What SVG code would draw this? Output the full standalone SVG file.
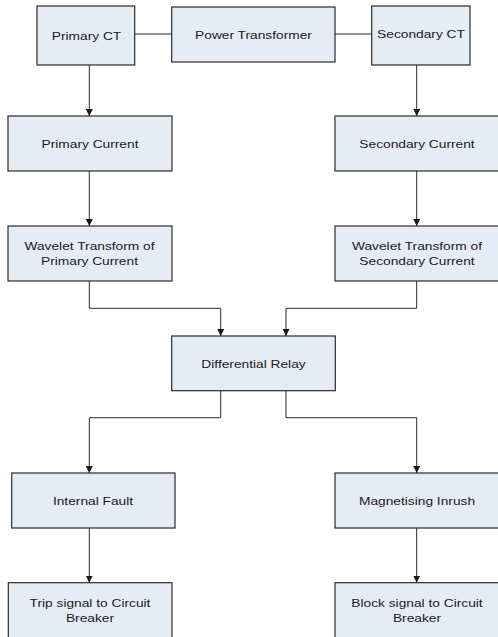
<svg xmlns="http://www.w3.org/2000/svg" width="498" height="637" viewBox="0 0 498 637">
<style>
.box{fill:#e6ecf6;stroke:#2b2b2b;stroke-width:1.2}
.lbl{font-family:"Liberation Sans",Arial,sans-serif;font-size:11px;fill:#1a1a1a;text-anchor:middle}
.con{fill:none;stroke:#2b2b2b;stroke-width:1}
</style>
<defs>
<marker id="arr" viewBox="0 0 10 10" refX="10" refY="5" markerWidth="7" markerHeight="7" markerUnits="userSpaceOnUse" orient="auto">
<path d="M0,0 L10,5 L0,10 z" fill="#1a1a1a"/>
</marker>
</defs>
<rect width="498" height="637" fill="#ffffff"/>
<g id="connectors">
<path class="con" d="M134.7,34 H171.7"/>
<path class="con" d="M335,34 H371.7"/>
<path class="con" marker-end="url(#arr)" d="M89.3,65 V116"/>
<path class="con" marker-end="url(#arr)" d="M416.7,65 V116"/>
<path class="con" marker-end="url(#arr)" d="M89.3,171 V226"/>
<path class="con" marker-end="url(#arr)" d="M416.7,171 V226"/>
<path class="con" marker-end="url(#arr)" d="M89.3,281 V308.3 H220.7 V336"/>
<path class="con" marker-end="url(#arr)" d="M416.7,281 V308.3 H286 V336"/>
<path class="con" marker-end="url(#arr)" d="M220.7,390.7 V417.7 H89.3 V473"/>
<path class="con" marker-end="url(#arr)" d="M286,390.7 V417.7 H416.7 V473"/>
<path class="con" marker-end="url(#arr)" d="M89.3,528 V582.7"/>
<path class="con" marker-end="url(#arr)" d="M416.7,528 V582.7"/>
</g>
<g id="primary-ct">
<rect class="box" x="37" y="6" width="97.7" height="59"/>
<text class="lbl" transform="translate(86.5,39.5) scale(1.25,1)">Primary CT</text>
</g>
<g id="power-transformer">
<rect class="box" x="171.7" y="7" width="163.3" height="55"/>
<text class="lbl" transform="translate(253.5,38.5) scale(1.25,1)">Power Transformer</text>
</g>
<g id="secondary-ct">
<rect class="box" x="371.7" y="6" width="98.3" height="59"/>
<text class="lbl" transform="translate(421,38) scale(1.25,1)">Secondary CT</text>
</g>
<g id="primary-current">
<rect class="box" x="8" y="116" width="164" height="55"/>
<text class="lbl" transform="translate(90,147.5) scale(1.25,1)">Primary Current</text>
</g>
<g id="secondary-current">
<rect class="box" x="335" y="116" width="166" height="55"/>
<text class="lbl" transform="translate(417,147.5) scale(1.25,1)">Secondary Current</text>
</g>
<g id="wavelet-primary">
<rect class="box" x="8" y="226" width="164" height="55"/>
<text class="lbl" transform="translate(89.5,250) scale(1.25,1)">Wavelet Transform of</text>
<text class="lbl" transform="translate(89.5,265) scale(1.25,1)">Primary Current</text>
</g>
<g id="wavelet-secondary">
<rect class="box" x="335" y="226" width="166" height="55"/>
<text class="lbl" transform="translate(417,250) scale(1.25,1)">Wavelet Transform of</text>
<text class="lbl" transform="translate(417,265) scale(1.25,1)">Secondary Current</text>
</g>
<g id="differential-relay">
<rect class="box" x="171.7" y="336" width="163.6" height="54.7"/>
<text class="lbl" transform="translate(253.5,367.5) scale(1.25,1)">Differential Relay</text>
</g>
<g id="internal-fault">
<rect class="box" x="11.7" y="473" width="163.3" height="55"/>
<text class="lbl" transform="translate(93,504.5) scale(1.25,1)">Internal Fault</text>
</g>
<g id="magnetising-inrush">
<rect class="box" x="335" y="473" width="166" height="55"/>
<text class="lbl" transform="translate(417,504.5) scale(1.25,1)">Magnetising Inrush</text>
</g>
<g id="trip-signal">
<rect class="box" x="8.3" y="582.7" width="163.7" height="60"/>
<text class="lbl" transform="translate(90,606.5) scale(1.25,1)">Trip signal to Circuit</text>
<text class="lbl" transform="translate(90,621.5) scale(1.25,1)">Breaker</text>
</g>
<g id="block-signal">
<rect class="box" x="335" y="582.7" width="166" height="60"/>
<text class="lbl" transform="translate(417,606.5) scale(1.25,1)">Block signal to Circuit</text>
<text class="lbl" transform="translate(417,621.5) scale(1.25,1)">Breaker</text>
</g>
</svg>
